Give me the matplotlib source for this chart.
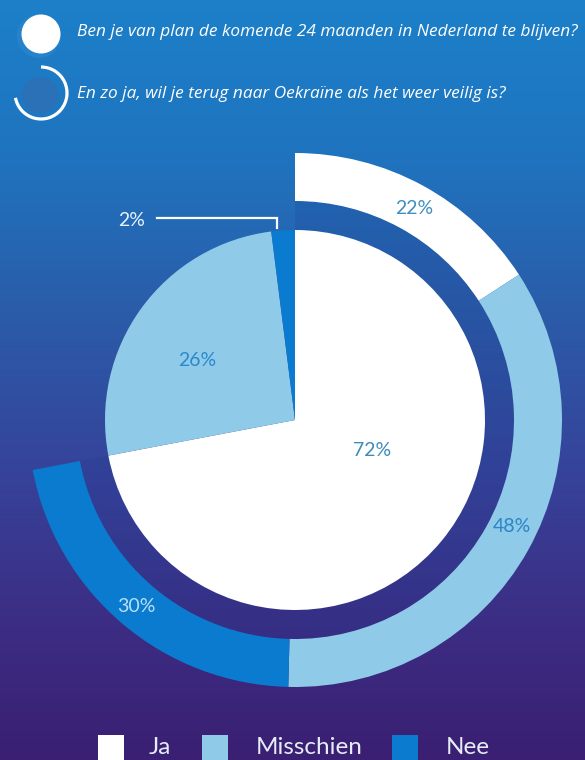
import numpy as np
import matplotlib
matplotlib.use("Agg")
import matplotlib.pyplot as plt
from matplotlib.patches import Circle, Arc, Rectangle
from matplotlib.colors import LinearSegmentedColormap

# Data
questions = [
    "Ben je van plan de komende 24 maanden in Nederland te blijven?",
    "En zo ja, wil je terug naar Oekraïne als het weer veilig is?",
]
categories = ["Ja", "Misschien", "Nee"]
stay_values = [72, 26, 2]      # inner pie
return_values = [22, 48, 30]   # outer ring, share of the "Ja" group

colors = ["#ffffff", "#8fcbe8", "#0b7bd0"]
W, H = 585, 760


def fy(y):
    # image pixel row -> data y
    return H - y


fig = plt.figure(figsize=(W / 100, H / 100), dpi=100)
ax = fig.add_axes([0, 0, 1, 1])

# background gradient, blue at top to purple at bottom
bg = LinearSegmentedColormap.from_list(
    "bg", [(0.0, "#1c80c9"), (0.2, "#1f74bf"), (0.42, "#2b5ba8"),
           (0.62, "#36439a"), (0.8, "#3c2f86"), (1.0, "#3a1f72")])
grad = np.linspace(0, 1, 256).reshape(-1, 1)
ax.imshow(grad, cmap=bg, extent=[0, W, 0, H], aspect="auto", zorder=0)

cx, cy = 295, fy(420)
ja_share = stay_values[0] / 100

# dark band behind the outer ring
ax.pie([ja_share], radius=219, center=(cx, cy), startangle=90, counterclock=False,
       normalize=False, colors=["#1f3a8f"], frame=True,
       wedgeprops=dict(width=29, linewidth=0, alpha=0.2))

# inner pie
ax.pie(stay_values, radius=190, center=(cx, cy), startangle=90, counterclock=False,
       colors=colors, frame=True, wedgeprops=dict(linewidth=0))

# outer ring covering only the "Ja" part
ring = [ja_share * v / 100 for v in return_values]
ax.pie(ring, radius=267, center=(cx, cy), startangle=90, counterclock=False,
       normalize=False, colors=colors, frame=True,
       wedgeprops=dict(width=48, linewidth=0))

font = "Lato"
pct_size = 14
# percentage labels
ax.text(414, fy(209), f"{return_values[0]}%", color="#3f8fbf", fontsize=pct_size,
        family=font, ha="center", va="center")
ax.text(512, fy(527), f"{return_values[1]}%", color="#2b85c7", fontsize=pct_size,
        family=font, ha="center", va="center")
ax.text(136, fy(607), f"{return_values[2]}%", color="#b6e0f4", fontsize=pct_size,
        family=font, ha="center", va="center")
ax.text(372, fy(450), f"{stay_values[0]}%", color="#3f8bb8", fontsize=pct_size,
        family=font, ha="center", va="center")
ax.text(197, fy(361), f"{stay_values[1]}%", color="#2b88cc", fontsize=pct_size,
        family=font, ha="center", va="center")
ax.text(132, fy(220), f"{stay_values[2]}%", color="#e8f3fb", fontsize=pct_size,
        family=font, ha="center", va="center")
ax.plot([157, 277, 277], [fy(218), fy(218), fy(228)], color="#ffffff", lw=1.6,
        solid_joinstyle="miter")

# header icons
ax.add_patch(Circle((39, fy(36)), 22, color="#3f93d4", alpha=0.3, lw=0))
ax.add_patch(Circle((41, fy(34)), 19.5, color="#ffffff", lw=0))
ax.add_patch(Circle((40, fy(95)), 18, color="#2a71b8", lw=0))
ax.add_patch(Arc((41, fy(93)), 52, 52, theta1=90 - ja_share * 360, theta2=90,
                 color="#ffffff", lw=2.3))

# header text
ax.text(77, fy(32), questions[0], color="#ffffff", fontsize=12.4, family="Open Sans",
        style="italic", ha="left", va="center")
ax.text(77, fy(94), questions[1], color="#ffffff", fontsize=12.4, family="Open Sans",
        style="italic", ha="left", va="center")

# legend
sq_x = [98, 202, 392]
txt_x = [149, 256, 446]
for c, name, sx, tx in zip(colors, categories, sq_x, txt_x):
    ax.add_patch(Rectangle((sx, fy(762)), 26, 27, color=c, lw=0))
    ax.text(tx, fy(747), name, color="#e6ecf7", fontsize=17.5, family=font,
            ha="left", va="center")

ax.set_xlim(0, W)
ax.set_ylim(0, H)
ax.set_aspect("auto")
ax.axis("off")

fig.savefig("out.png", dpi=100)
